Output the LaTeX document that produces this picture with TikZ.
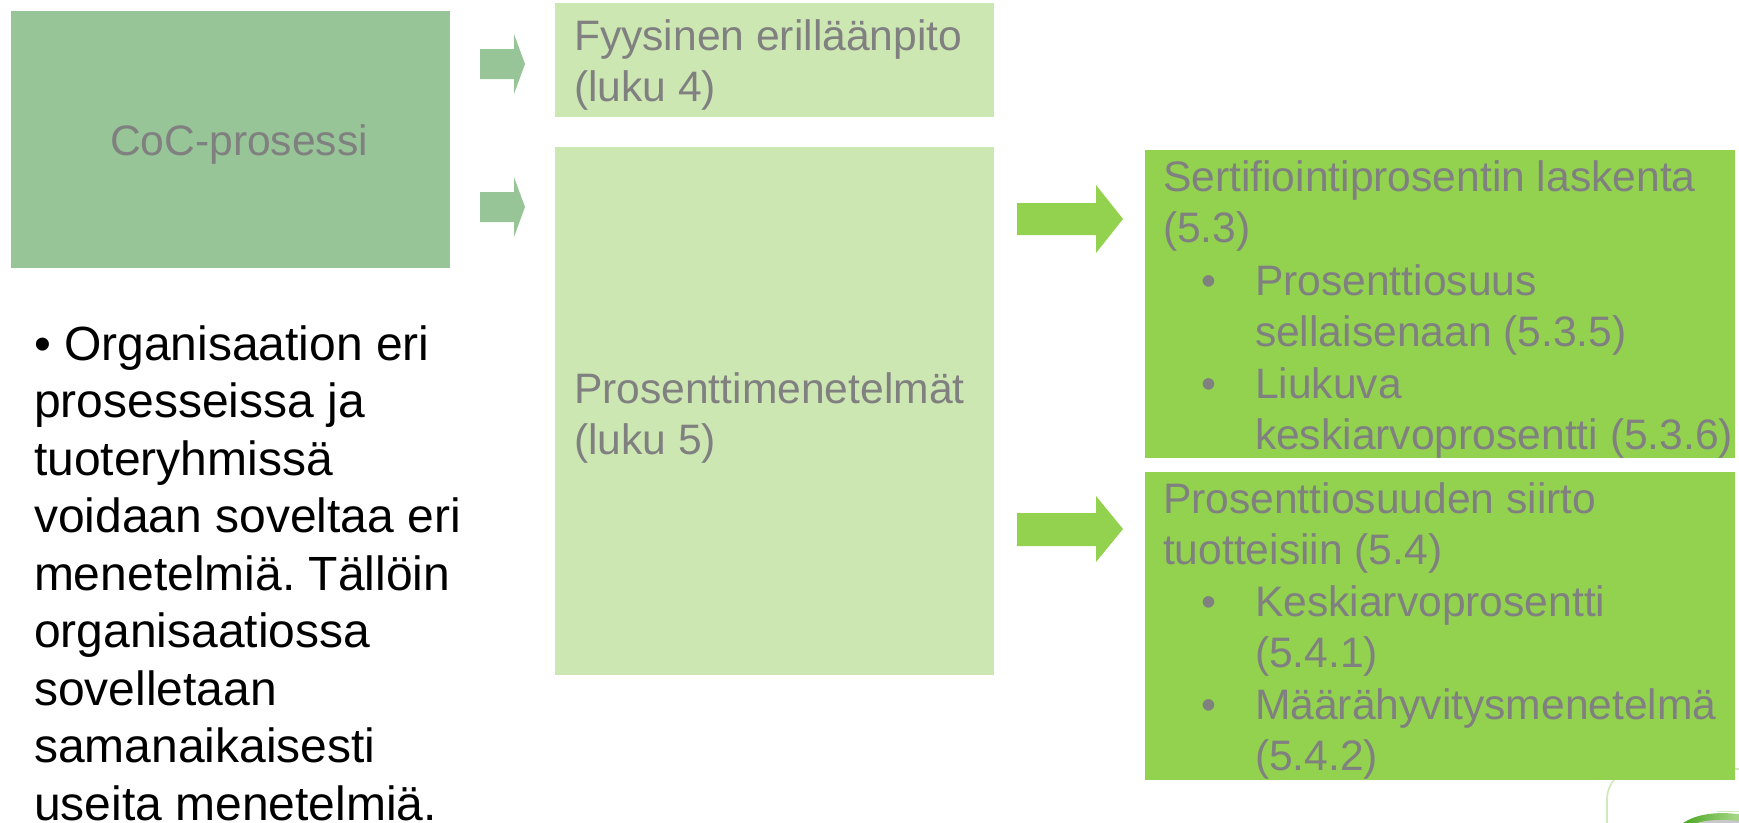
\documentclass[tikz,border=0pt]{standalone}
\usepackage{fontspec}
\setmainfont{Liberation Sans}
\definecolor{dk}{HTML}{97C597}
\definecolor{lt}{HTML}{CDE7B3}
\definecolor{gr}{HTML}{92D24F}
\definecolor{tx}{HTML}{808080}
\definecolor{logoline}{HTML}{CFE8BC}
\definecolor{logogreen}{HTML}{4CA723}
\definecolor{logopale}{HTML}{A8D88A}
\definecolor{logogray}{HTML}{C8C8C8}
\frenchspacing
\newcommand{\lns}[1]{\begin{tabular}[t]{@{}l@{}}#1\end{tabular}}
\tikzset{
 x=0.05cm,y=-0.05cm,
 boxnode/.style={inner sep=0,outer sep=0,anchor=north west},
 lbl/.style={text=tx,font=\fontsize{60.6pt}{73.2pt}\selectfont,inner sep=0,outer sep=0,anchor=base west},
 blk/.style={text=black,font=\fontsize{68.3pt}{81.9pt}\selectfont,inner sep=0,outer sep=0,anchor=base west},
 bul/.style={lbl,anchor=base},
}
\begin{document}
\begin{tikzpicture}
\useasboundingbox (0,0) rectangle (1739,823);
\fill[white] (0,0) rectangle (1739,823);
% logo behind
\draw[logoline,line width=2.4pt] (1607,830) -- (1607,800) .. controls (1607,782) and (1620,769) .. (1640,769) -- (1745,769);
\draw[logoline,line width=1.4pt] (1717,811) -- (1739,811);
\shade[left color=logogreen,right color=logopale] (1683,823) .. controls (1695,815) and (1710,813) .. (1725,813) -- (1739,814) -- (1739,823) -- cycle;
\fill[logogray] (1697,823) .. controls (1706,820) and (1722,819) .. (1739,821) -- (1739,823) -- cycle;
% boxes
\node[boxnode,fill=dk,minimum width=21.95cm,minimum height=12.85cm] (coc) at (11,11) {};
\node[boxnode,fill=lt,minimum width=21.95cm,minimum height=5.7cm] (fy) at (555,3) {};
\node[boxnode,fill=lt,minimum width=21.95cm,minimum height=26.4cm] (pr) at (555,147) {};
\node[boxnode,fill=gr,minimum width=29.5cm,minimum height=15.4cm] (se) at (1145,150) {};
\node[boxnode,fill=gr,minimum width=29.5cm,minimum height=15.4cm] (si) at (1145,472) {};
% arrows
\fill[dk] (480,49)--(514,49)--(514,34)--(525,64)--(514,94)--(514,79)--(480,79)--cycle;
\fill[dk] (480,192)--(514,192)--(514,177)--(525,207)--(514,237)--(514,222)--(480,222)--cycle;
\fill[gr] (1017,203)--(1096,203)--(1096,185)--(1123,219)--(1096,253)--(1096,235)--(1017,235)--cycle;
\fill[gr] (1017,513)--(1096,513)--(1096,496)--(1123,529)--(1096,562)--(1096,546)--(1017,546)--cycle;
% text
\node[lbl] (t0) at (110,155) {CoC-prosessi};
\node[lbl] (t1) at (574,50) {\lns{Fyysinen erilläänpito\\(luku 4)}};
\node[lbl] (t2) at (574,403) {\lns{Prosenttimenetelmät\\(luku 5)}};
\node[lbl] (t3) at (1163,191) {\lns{Sertifiointiprosentin laskenta\\(5.3)}};
\node[bul] (t4) at (1209,295) {•};
\node[lbl] (t5) at (1255,295) {\lns{Prosenttiosuus\\sellaisenaan (5.3.5)}};
\node[bul] (t6) at (1209,398) {•};
\node[lbl] (t7) at (1255,398) {\lns{Liukuva\\keskiarvoprosentti (5.3.6)}};
\node[lbl] (t8) at (1163,513) {\lns{Prosenttiosuuden siirto\\tuotteisiin (5.4)}};
\node[bul] (t9) at (1209,616) {•};
\node[lbl] (t10) at (1255,616) {\lns{Keskiarvoprosentti\\(5.4.1)}};
\node[bul] (t11) at (1209,719) {•};
\node[lbl] (t12) at (1255,719) {\lns{Määrähyvitysmenetelmä\\(5.4.2)}};
\node[blk] (t13) at (34,360) {\lns{• Organisaation eri\\prosesseissa ja\\tuoteryhmissä\\voidaan soveltaa eri\\menetelmiä. Tällöin\\organisaatiossa\\sovelletaan\\samanaikaisesti\\useita menetelmiä.}};
\end{tikzpicture}
\end{document}
